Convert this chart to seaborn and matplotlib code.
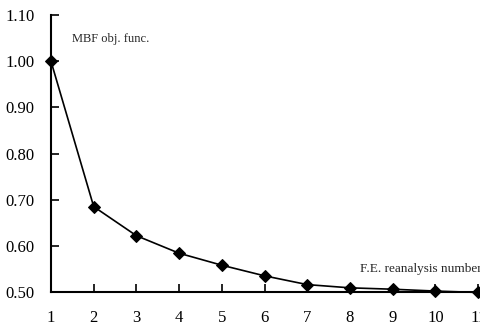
import matplotlib
matplotlib.use("Agg")
import matplotlib.pyplot as plt
import seaborn as sns
import pandas as pd

iterations = [1, 2, 3, 4, 5, 6, 7, 8, 9, 10, 11]
objective = [1.00, 0.685, 0.622, 0.584, 0.558, 0.535, 0.516, 0.509, 0.506, 0.502, 0.499]
y_ticks = [0.50, 0.60, 0.70, 0.80, 0.90, 1.00, 1.10]

df = pd.DataFrame({"iter": iterations, "obj": objective})

sns.set_style("ticks")
plt.rcParams["font.family"] = ["Liberation Serif", "DejaVu Serif"]

fig = plt.figure(figsize=(4.81, 3.29), dpi=100)
ax = fig.add_axes([0.106, 0.1125, 0.888, 0.8415])

sns.lineplot(data=df, x="iter", y="obj", ax=ax, color="black", linewidth=1.2,
             marker="D", markersize=6, markeredgecolor="black", clip_on=False)

ax.set_xlim(1, 11)
ax.set_ylim(0.50, 1.10)
ax.set_xticks(iterations)
ax.set_yticks(y_ticks)
ax.set_yticklabels([f"{v:.2f}" for v in y_ticks])
ax.set_xlabel("")
ax.set_ylabel("")

for s in ["top", "right"]:
    ax.spines[s].set_visible(False)
for s in ["left", "bottom"]:
    ax.spines[s].set_linewidth(1.5)
    ax.spines[s].set_color("black")

ax.tick_params(axis="x", direction="in", length=6, width=1.2, pad=13,
               labelsize=12, colors="black")
ax.tick_params(axis="y", direction="in", length=6, width=1.2, pad=12,
               labelsize=12, colors="black")

ax.text(1.49, 1.048, "MBF obj. func.", fontsize=9, va="center", ha="left")
ax.text(8.24, 0.55, "F.E. reanalysis number", fontsize=9.5, va="center",
        ha="left", clip_on=False)

fig.savefig("out.png", dpi=100)
